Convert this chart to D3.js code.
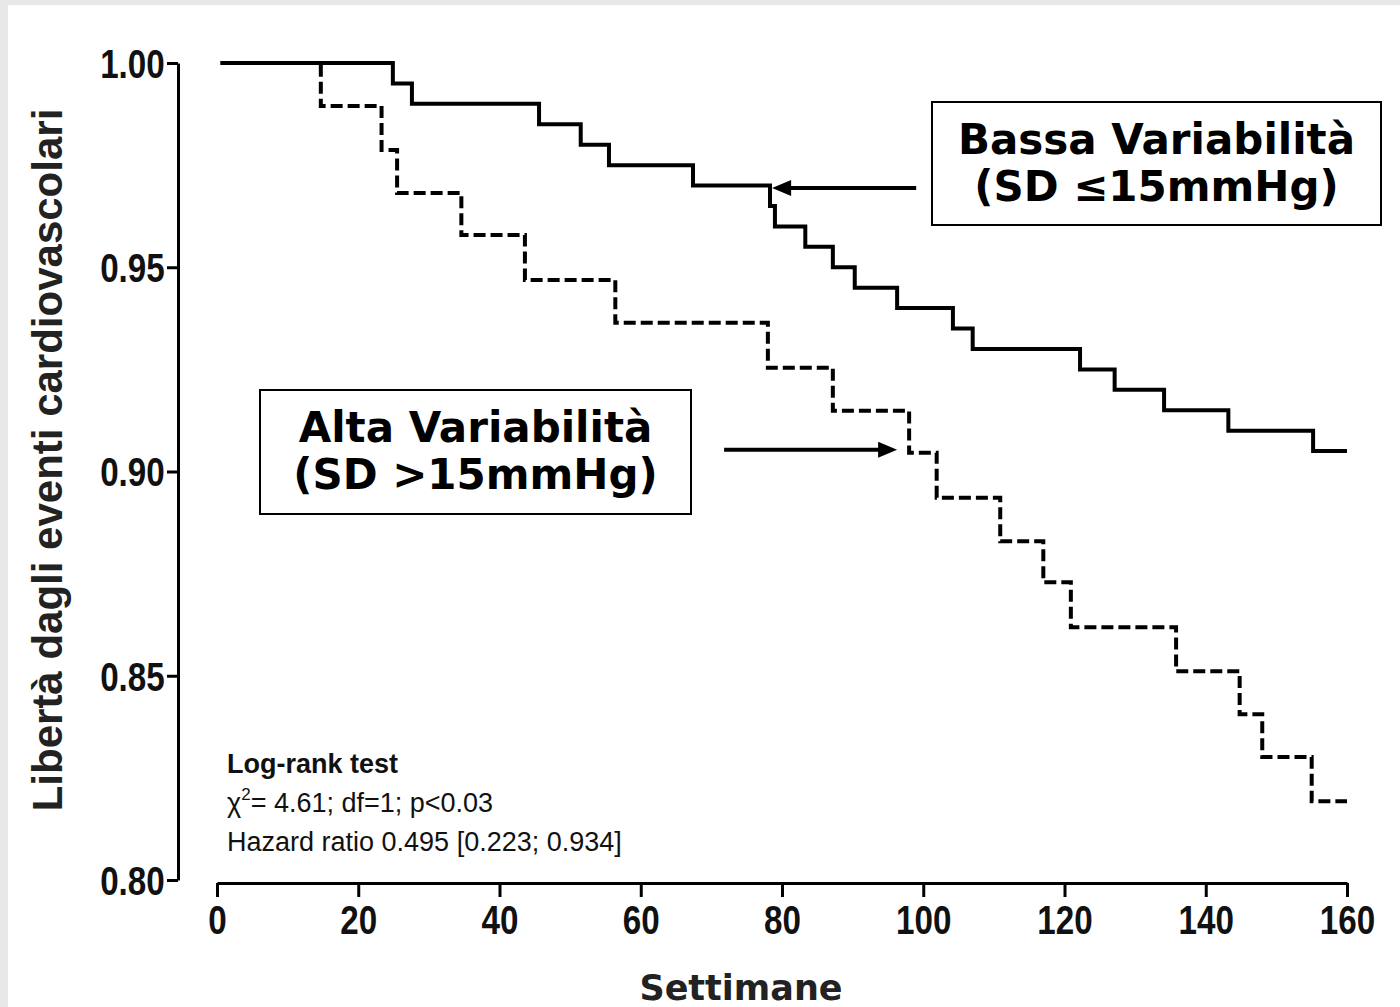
<!DOCTYPE html>
<html>
<head>
<meta charset="utf-8">
<script src="https://cdn.jsdelivr.net/npm/d3@7"></script>
<style>
  body { margin: 0; background: #e8e8e8; }
  svg { display: block; }
</style>
</head>
<body>
<svg id="chart"></svg>
<script>
// Kaplan-Meier steps (week of drop, survival after drop)
const weeksBassa = [0.5, 24.9, 27.6, 45.6, 51.5, 55.5, 67.4, 78.3, 79.0, 83.3, 87.2, 90.3, 96.3, 104.2, 107.0, 122.2, 127.1, 134.1, 143.2, 155.2, 160];
const survBassa  = [1.000, 0.995, 0.990, 0.985, 0.980, 0.975, 0.970, 0.965, 0.960, 0.955, 0.950, 0.945, 0.940, 0.935, 0.930, 0.925, 0.920, 0.915, 0.910, 0.905, 0.905];

const weeksAlta = [0.5, 14.7, 23.3, 25.5, 34.6, 43.6, 56.4, 78.0, 87.2, 98.0, 101.9, 110.9, 117.0, 120.9, 135.8, 144.8, 148.0, 155.0, 160];
const survAlta  = [1.000, 0.9895, 0.9787, 0.9682, 0.9579, 0.9469, 0.9364, 0.9254, 0.9149, 0.9046, 0.8936, 0.8829, 0.8729, 0.8619, 0.8511, 0.8406, 0.8301, 0.8193, 0.8193];

const xTicks = [0, 20, 40, 60, 80, 100, 120, 140, 160];
const yTicks = [0.80, 0.85, 0.90, 0.95, 1.00];

const statsLines = ["Log-rank test", "= 4.61; df=1; p<0.03", "Hazard ratio 0.495 [0.223; 0.934]"];

let W = 1400, H = 1007;
let svg = d3.select("#chart").attr("width", W).attr("height", H);

// paper
svg.append("rect").attr("x", 0).attr("y", 0).attr("width", W).attr("height", H).attr("fill", "#e8e8e8");
svg.append("rect").attr("x", 8).attr("y", 5).attr("width", W - 8).attr("height", H - 5).attr("fill", "#ffffff");

// scales
let x = d3.scaleLinear().domain([0, 160]).range([217, 1347]);
let y = d3.scaleLinear().domain([0.80, 1.00]).range([880, 63]);

let tickFont = "'Liberation Sans', Arial, sans-serif";

//y axis
let yAxis = svg.append("g")
    .attr("transform", "translate(178,0)")
    .call(d3.axisLeft(y).tickValues(yTicks).tickFormat(d3.format(".2f")).tickSize(11).tickSizeOuter(0).tickPadding(5));
yAxis.select(".domain").attr("stroke-width", 3);
yAxis.selectAll(".tick line").attr("stroke-width", 3);
// condensed look of the original bold labels
yAxis.selectAll(".tick text")
    .style("font-family", tickFont).style("font-weight", "bold").style("font-size", "40px")
    .attr("fill", "#111").attr("dy", "0.36em")
    .attr("transform", "scale(0.83,1)");

//x axis
let xAxis = svg.append("g")
    .attr("transform", "translate(0,883)")
    .call(d3.axisBottom(x).tickValues(xTicks).tickSize(14).tickSizeOuter(0).tickPadding(8));
xAxis.select(".domain").attr("stroke-width", 3);
xAxis.selectAll(".tick line").attr("stroke-width", 3);
xAxis.selectAll(".tick text")
    .style("font-family", tickFont).style("font-weight", "bold").style("font-size", "40px")
    .attr("fill", "#111").attr("dy", "0.72em")
    .attr("transform", "scale(0.83,1)");

// step lines
let stepLine = d3.line()
    .x(function(d) { return x(d[0]); })
    .y(function(d) { return y(d[1]); })
    .curve(d3.curveStepAfter);

svg.append("path")
    .datum(d3.zip(weeksAlta, survAlta))
    .attr("fill", "none").attr("stroke", "#000").attr("stroke-width", 4)
    .attr("stroke-dasharray", "12,5")
    .attr("d", stepLine);

svg.append("path")
    .datum(d3.zip(weeksBassa, survBassa))
    .attr("fill", "none").attr("stroke", "#000").attr("stroke-width", 4)
    .attr("d", stepLine);

//axis titles
svg.append("text")
    .attr("transform", "translate(62,460) rotate(-90)")
    .style("text-anchor", "middle")
    .style("font-family", "'Liberation Sans', Arial, sans-serif")
    .style("font-weight", "bold").style("font-size", "42px")
    .attr("fill", "#222")
    .text("Libertà dagli eventi cardiovascolari");

svg.append("text")
    .attr("x", 741).attr("y", 1000)
    .style("text-anchor", "middle")
    .style("font-family", "'DejaVu Sans', Verdana, sans-serif")
    .style("font-weight", "bold").style("font-size", "35px")
    .attr("fill", "#222")
    .text("Settimane");

// stats block
let stats = svg.append("g").style("font-family", "'Liberation Sans', Arial, sans-serif")
    .style("font-size", "27px").attr("fill", "#111");
stats.append("text").attr("x", 227).attr("y", 773).style("font-weight", "bold").text(statsLines[0]);
let chi = stats.append("text").attr("x", 227).attr("y", 812);
chi.append("tspan").text("\u03C7");
chi.append("tspan").attr("dy", -12).style("font-size", "17px").text("2");
chi.append("tspan").attr("dy", 12).text(statsLines[1]);
stats.append("text").attr("x", 227).attr("y", 851).text(statsLines[2]);

// legend boxes
function labelBox(x0, y0, w, h, lines) {
    let g = svg.append("g");
    g.append("rect").attr("x", x0).attr("y", y0).attr("width", w).attr("height", h)
        .attr("fill", "#fff").attr("stroke", "#000").attr("stroke-width", 2);
    lines.forEach(function(t, i) {
        g.append("text")
            .attr("x", x0 + w / 2).attr("y", y0 + 52 + i * 47)
            .style("text-anchor", "middle")
            .style("font-family", "'DejaVu Sans', Verdana, sans-serif")
            .style("font-weight", "bold").style("font-size", "42px")
            .attr("fill", "#000")
            .text(t);
    });
}
labelBox(932, 102, 449, 123, ["Bassa Variabilità", "(SD \u226415mmHg)"]);
labelBox(260, 390, 431, 124, ["Alta Variabilità", "(SD >15mmHg)"]);

// arrows (data coords)
function arrow(wFrom, wTo, v) {
    let x1 = x(wFrom), x2 = x(wTo), yy = y(v);
    let dir = x2 > x1 ? 1 : -1;
    svg.append("line").attr("x1", x1).attr("y1", yy).attr("x2", x2 - dir * 16).attr("y2", yy)
        .attr("stroke", "#000").attr("stroke-width", 4);
    svg.append("path")
        .attr("d", "M" + x2 + "," + yy + "L" + (x2 - dir * 19) + "," + (yy - 8) + "L" + (x2 - dir * 19) + "," + (yy + 8) + "Z")
        .attr("fill", "#000");
}
arrow(99.0, 78.6, 0.9694);
arrow(71.8, 96.3, 0.9053);
</script>
</body>
</html>
